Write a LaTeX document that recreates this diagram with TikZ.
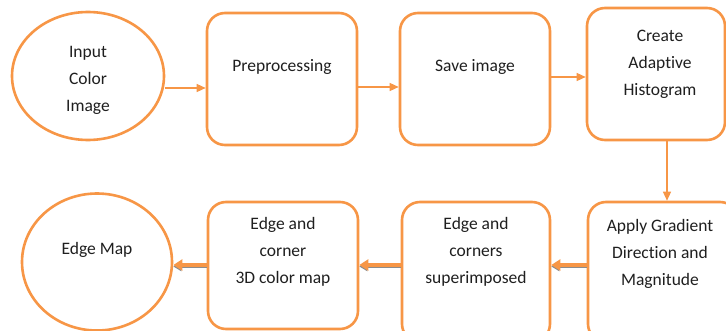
\documentclass[tikz,border=0pt]{standalone}
\usepackage{fontspec}
\setmainfont{Carlito}[Ligatures=NoCommon]
\usetikzlibrary{shapes.geometric,arrows.meta}
\definecolor{org}{HTML}{F79646}
\definecolor{shd}{HTML}{8C8C8C}
\tikzset{
  box/.style={draw=org, line width=2.6pt, rounded corners=18pt, fill=white},
  oval/.style={draw=org, line width=2.6pt, ellipse, fill=white},
  txt/.style={align=center, font=\fontsize{17.5}{27}\selectfont, text=black!88},
  thin/.style={draw=org, line width=1.3pt, -{Triangle[length=9pt,width=8pt]}},
  thick/.style={draw=org, line width=3.5pt, -{Triangle[length=9pt,width=11pt]}},
  shadowline/.style={draw=shd, line width=2.5pt, -{Triangle[length=8pt,width=9pt]}}
}
\begin{document}
\begin{tikzpicture}[x=1pt,y=-1pt]
\useasboundingbox (0,0) rectangle (726,331);
\clip (0,0) rectangle (726,331);
% top row
\node[oval, minimum width=152pt, minimum height=128pt] (in) at (88,76) {};
\node[txt] (intx) at (88,80) {Input\\Color\\Image};
\node[box, minimum width=150pt, minimum height=132pt] (pre) at (282,79) {};
\node[txt] (pretx) at (282,67) {Preprocessing};
\node[box, minimum width=150pt, minimum height=132pt] (sav) at (475,79) {};
\node[txt] (savtx) at (475,67) {Save image};
\node[box, minimum width=138pt, minimum height=132pt] (cre) at (656,74) {};
\node[txt] (cretx) at (660,64) {Create\\Adaptive\\Histogram};
% bottom row
\node[oval, minimum width=150pt, minimum height=137pt] (em) at (97,262) {};
\node[txt] (emtx) at (97,250) {Edge Map};
\node[box, minimum width=150pt, minimum height=127pt] (cor) at (283,265.5) {};
\node[txt] (cortx) at (283,252) {Edge and\\corner\\3D color map};
\node[box, minimum width=148pt, minimum height=140pt] (sup) at (476,272) {};
\node[txt] (suptx) at (476,252) {Edge and\\corners\\superimposed};
\node[box, minimum width=150pt, minimum height=140pt] (app) at (663,272) {};
\node[txt] (apptx) at (660,254) {Apply Gradient\\Direction and\\Magnitude};
% connectors
\draw[thin] (in.east |- 0,88) -- (pre.west |- 0,88);
\draw[thin] (pre.east |- 0,87) -- (sav.west |- 0,87);
\draw[thin] (sav.east |- 0,77) -- (cre.west |- 0,77);
\draw[thin] (cre.south -| 667,0) -- (app.north -| 667,0);
% thick arrows with shadow
\draw[shadowline] ([yshift=-1.5pt]app.west |- 0,265) -- ([yshift=-1.5pt]sup.east |- 0,265);
\draw[thick] (app.west |- 0,265) -- (sup.east |- 0,265);
\draw[shadowline] ([yshift=-1.5pt]sup.west |- 0,265) -- ([yshift=-1.5pt]cor.east |- 0,265);
\draw[thick] (sup.west |- 0,265) -- (cor.east |- 0,265);
\draw[shadowline] ([yshift=-1.5pt]cor.west |- 0,265) -- ([yshift=-1.5pt]em.east |- 0,265);
\draw[thick] (cor.west |- 0,265) -- (em.east |- 0,265);
\end{tikzpicture}
\end{document}
